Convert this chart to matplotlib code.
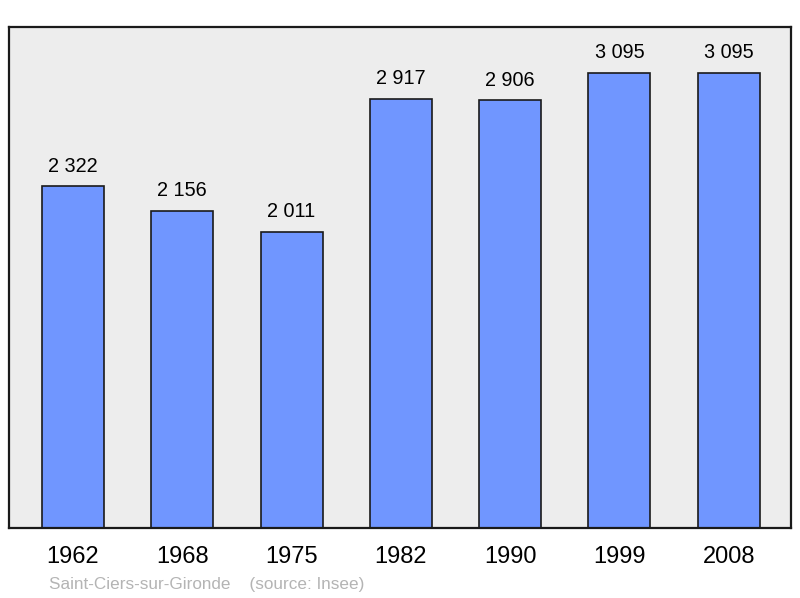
import matplotlib
matplotlib.use("Agg")
import matplotlib.pyplot as plt

years = ["1962", "1968", "1975", "1982", "1990", "1999", "2008"]
population = [2322, 2156, 2011, 2917, 2906, 3095, 3095]
value_labels = ["2 322", "2 156", "2 011", "2 917", "2 906", "3 095", "3 095"]

plt.rcParams['font.family'] = ['Liberation Sans', 'DejaVu Sans']

fig = plt.figure(figsize=(8, 5.98), dpi=100)
ax = fig.add_axes([9/800, 70/598, 782/800, 501/598])
ax.set_facecolor('#ededed')

x = range(len(years))
ax.bar(x, population, width=0.567, color='#7096ff', edgecolor='#1a1a1a', linewidth=1.2, zorder=2)

for i, (v, lab) in enumerate(zip(population, value_labels)):
    ax.annotate(lab, (i, v), xytext=(0, 14.5), textcoords='offset points',
                ha='center', va='center', fontsize=14.3, color='black')

ax.set_xlim(-0.585, 6.57)
ax.set_ylim(0, max(population) * 1.1)
ax.set_yticks([])
ax.set_xticks(list(x))
ax.set_xticklabels(years, fontsize=17)
ax.tick_params(axis='x', length=0, pad=13)
for s in ax.spines.values():
    s.set_linewidth(1.6)
    s.set_color('#1a1a1a')

fig.text(49/800, 1 - 584/598, "Saint-Ciers-sur-Gironde    (source: Insee)",
         fontsize=12.3, color='#b4b4b4', ha='left', va='center')

fig.savefig("out.png", dpi=100)
